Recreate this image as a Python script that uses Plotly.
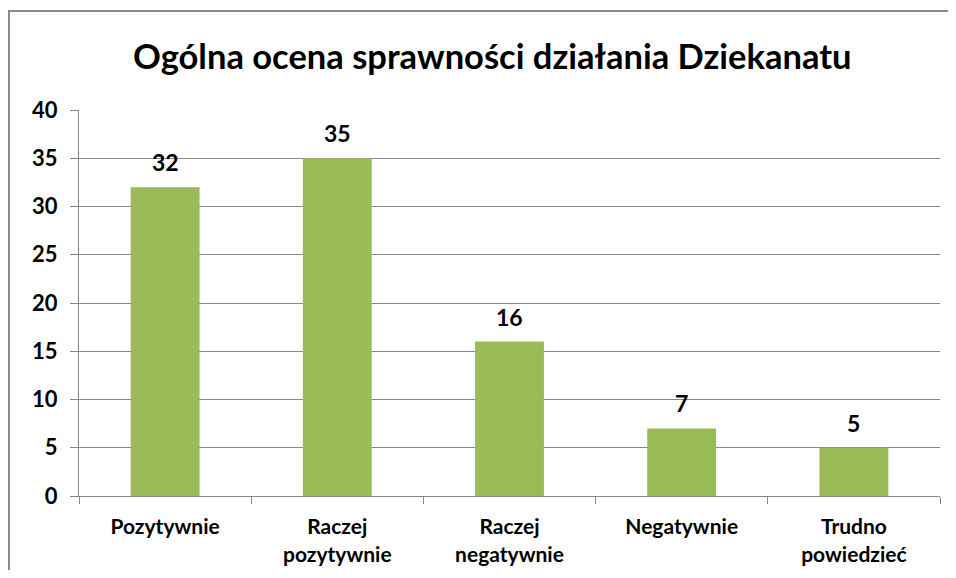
import plotly.graph_objects as go

categories = ["Pozytywnie", "Raczej<br>pozytywnie", "Raczej<br>negatywnie", "Negatywnie", "Trudno<br>powiedzieć"]
values = [32, 35, 16, 7, 5]
y_ticks = [0, 5, 10, 15, 20, 25, 30, 35, 40]

FONT = "Lato"
GRID = "#878787"

fig = go.Figure()
fig.add_trace(
    go.Bar(
        x=categories,
        y=values,
        width=0.4,
        marker={"color": "#9bbb59", "line": {"width": 0}},
        hoverinfo="x+y",
    )
)

# value labels above bars
for cat, val in zip(categories, values):
    fig.add_annotation(
        x=cat, y=val, text=str(val), showarrow=False,
        yanchor="bottom", yshift=9,
        font={"family": FONT, "size": 23, "color": "#000", "weight": "bold"},
    )

# outer chart border (left + top visible)
fig.add_shape(
    type="rect", xref="paper", yref="paper",
    x0=-0.0813, x1=1.2, y0=-0.4, y1=1.2565,
    line={"color": "#8a8a8a", "width": 2}, layer="below",
)

fig.update_layout(
    width=940,
    height=562,
    title={
        "text": "Ogólna ocena sprawności działania Dziekanatu",
        "xref": "paper", "x": 0.48, "xanchor": "center",
        "y": 0.913, "yanchor": "middle",
        "font": {"family": FONT, "size": 34.5, "color": "#000", "weight": "bold"},
    },
    margin={"l": 71, "r": 8, "t": 102, "b": 74},
    plot_bgcolor="white",
    paper_bgcolor="white",
    showlegend=False,
)
fig.update_xaxes(
    type="category",
    tickson="boundaries",
    ticks="outside", ticklen=7, tickcolor=GRID, tickwidth=1,
    showline=True, linecolor=GRID, linewidth=1,
    showgrid=False,
    tickfont={"family": FONT, "size": 21, "color": "#000", "weight": "bold"},
    ticklabelstandoff=12,
    automargin=False,
)
fig.update_yaxes(
    range=[0, 40],
    tickvals=y_ticks,
    ticks="outside", ticklen=8, tickcolor=GRID, tickwidth=1,
    showline=True, linecolor=GRID, linewidth=1,
    showgrid=True, gridcolor=GRID, gridwidth=1,
    zeroline=False,
    tickfont={"family": FONT, "size": 22, "color": "#000", "weight": "bold"},
    ticklabelstandoff=8,
    automargin=False,
)

fig.write_html("out.html")
